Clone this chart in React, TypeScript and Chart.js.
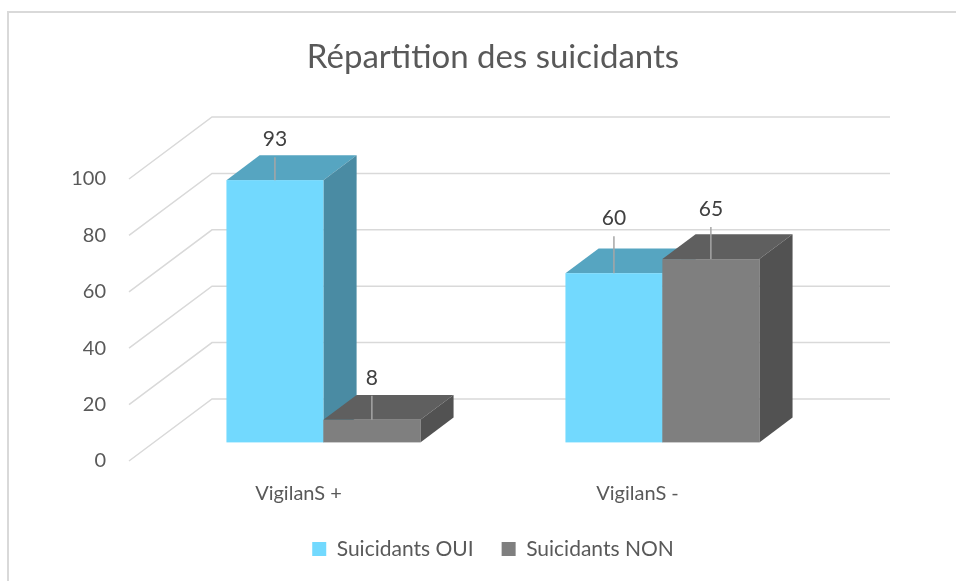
import React, { useEffect, useRef } from "react";
import { Chart, registerables } from "chart.js";

Chart.register(...registerables);

const categories = ["VigilanS +", "VigilanS -"];
const seriesNames = ["Suicidants OUI", "Suicidants NON"];
const valuesOui = [93, 60];
const valuesNon = [8, 65];
const yMin = 0;
const yMax = 100;
const yStep = 20;
const chartTitle = "Répartition des suicidants";

// style constants
const FONT = "Lato, 'Open Sans', sans-serif";
const TEXT = "#595959";
const GRID = "#D9D9D9";
const DEPTH_X = 83;
const DEPTH_Y = -62;
const FRONT_FRAC = 0.3;
const BAR_FRAC = 0.4;
const FACE_COLORS = [
  { front: "#72D9FE", top: "#56A5C1", side: "#4A8BA3" },
  { front: "#7F7F7F", top: "#5F5F5F", side: "#525252" },
];
const LEADER_LEN = [
  [23, 37],
  [24, 32],
];

const depthPlugin = {
  id: "depth3d",
  beforeDraw(chart: any) {
    const ctx = chart.ctx;
    ctx.save();
    ctx.fillStyle = GRID;
    ctx.fillRect(7, 11, chart.width - 7, 2);
    ctx.fillRect(7, 11, 2, chart.height - 11);
    ctx.restore();
  },
  beforeDatasetsDraw(chart: any) {
    const ctx = chart.ctx;
    const ys = chart.scales.y;
    const area = chart.chartArea;
    ctx.save();
    ctx.strokeStyle = GRID;
    ctx.lineWidth = 1.5;
    ys.ticks.forEach((t: any) => {
      const y = ys.getPixelForValue(t.value);
      ctx.beginPath();
      ctx.moveTo(area.left, y);
      ctx.lineTo(area.left + DEPTH_X, y + DEPTH_Y);
      ctx.lineTo(area.right + DEPTH_X, y + DEPTH_Y);
      ctx.stroke();
    });
    const sx = DEPTH_X * FRONT_FRAC;
    const sy = DEPTH_Y * FRONT_FRAC;
    const bx = DEPTH_X * BAR_FRAC;
    const by = DEPTH_Y * BAR_FRAC;
    const labels: any[] = [];
    const nCat = chart.data.labels.length;
    for (let i = 0; i < nCat; i++) {
      chart.data.datasets.forEach((ds: any, j: number) => {
        const meta = chart.getDatasetMeta(j);
        const el = meta.data[i];
        const { x, y, base, width } = el.getProps(["x", "y", "base", "width"], true);
        const c = FACE_COLORS[j];
        const x0 = x - width / 2 + sx;
        const x1 = x + width / 2 + sx;
        const top = y + sy;
        const bot = base + sy;
        ctx.fillStyle = c.top;
        ctx.beginPath();
        ctx.moveTo(x0, top);
        ctx.lineTo(x1, top);
        ctx.lineTo(x1 + bx, top + by);
        ctx.lineTo(x0 + bx, top + by);
        ctx.closePath();
        ctx.fill();
        ctx.fillStyle = c.side;
        ctx.beginPath();
        ctx.moveTo(x1, top);
        ctx.lineTo(x1 + bx, top + by);
        ctx.lineTo(x1 + bx, bot + by);
        ctx.lineTo(x1, bot);
        ctx.closePath();
        ctx.fill();
        ctx.fillStyle = c.front;
        ctx.fillRect(x0, top, x1 - x0, bot - top);
        labels.push({ cx: (x0 + x1) / 2, top, lead: LEADER_LEN[j][i], text: String(ds.data[i]) });
      });
    }
    labels.forEach((l) => {
      ctx.strokeStyle = "#A6A6A6";
      ctx.lineWidth = 1.5;
      ctx.beginPath();
      ctx.moveTo(l.cx, l.top);
      ctx.lineTo(l.cx, l.top - l.lead);
      ctx.stroke();
      ctx.fillStyle = "#404040";
      ctx.font = `21px ${FONT}`;
      ctx.textAlign = "center";
      ctx.textBaseline = "middle";
      ctx.fillText(l.text, l.cx, l.top - l.lead - 18);
    });
    ctx.restore();
    return false;
  },
};

export default function App() {
  const ref = useRef<HTMLCanvasElement>(null);
  useEffect(() => {
    const chart = new Chart(ref.current as HTMLCanvasElement, {
      type: "bar",
      data: {
        labels: categories,
        datasets: [
          { label: seriesNames[0], data: valuesOui, backgroundColor: FACE_COLORS[0].front },
          { label: seriesNames[1], data: valuesNon, backgroundColor: FACE_COLORS[1].front },
        ],
      },
      options: {
        animation: false,
        responsive: false,
        devicePixelRatio: 1,
        layout: { padding: { left: 30, right: 0, top: 0, bottom: 11.5 } },
        datasets: { bar: { barPercentage: 1, categoryPercentage: 0.572 } },
        scales: {
          x: {
            grid: { display: false },
            border: { display: false },
            ticks: { color: TEXT, font: { family: FONT, size: 20 }, padding: 13 },
            afterFit: (s: any) => {
              s.height = 49.5;
            },
          },
          y: {
            min: yMin,
            max: yMax,
            grid: { display: false },
            border: { display: false },
            ticks: { stepSize: yStep, color: TEXT, font: { family: FONT, size: 20 }, padding: 15 },
            afterFit: (s: any) => {
              s.width = 99;
            },
          },
          yRight: {
            type: "linear",
            position: "right",
            display: true,
            grid: { display: false },
            border: { display: false },
            ticks: { display: false },
            afterFit: (s: any) => {
              s.width = 149;
            },
          },
        },
        plugins: {
          title: {
            display: true,
            text: chartTitle,
            color: TEXT,
            font: { family: FONT, size: 33, weight: "normal" },
            padding: { top: 38, bottom: 101.4 },
          },
          legend: {
            position: "bottom",
            labels: {
              color: TEXT,
              font: { family: FONT, size: 21 },
              boxWidth: 14,
              boxHeight: 14,
              padding: 28,
            },
          },
          tooltip: { enabled: false },
        },
      },
      plugins: [depthPlugin],
    } as any);
    return () => chart.destroy();
  }, []);
  return (
    <div style={{ position: "absolute", left: 0, top: 0, width: 956, height: 581, background: "#fff" }}>
      <canvas ref={ref} width={956} height={581} style={{ display: "block" }} />
    </div>
  );
}
